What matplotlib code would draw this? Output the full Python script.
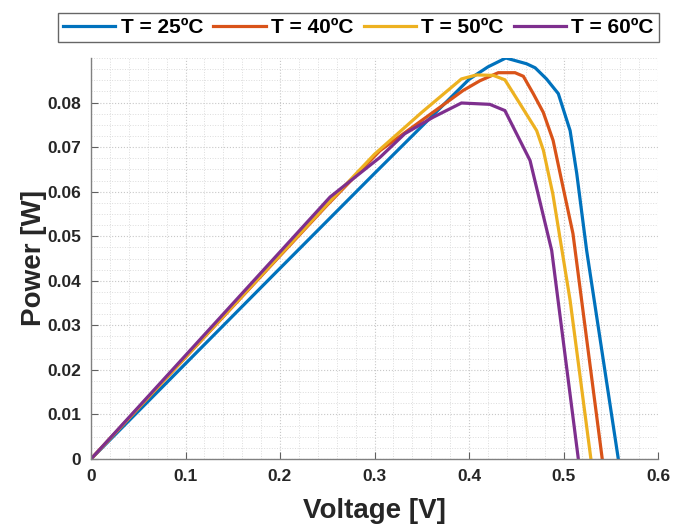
import numpy as np
import matplotlib.pyplot as plt
from matplotlib.ticker import MultipleLocator

plt.rcParams['font.family'] = ['Liberation Sans', 'DejaVu Sans']

# P-V curves
v25 = [0, 0.1, 0.2, 0.3, 0.4, 0.42, 0.439, 0.461, 0.470, 0.482, 0.4945, 0.507, 0.514, 0.5245, 0.558]
p25 = [0, 0.0214, 0.0428, 0.0641, 0.0852, 0.0880, 0.0900, 0.0887, 0.0878, 0.0853, 0.0820, 0.0737, 0.0641, 0.0468, 0]

v40 = [0, 0.25, 0.3058, 0.3937, 0.4116, 0.431, 0.4487, 0.4575, 0.468, 0.4786, 0.489, 0.498, 0.510, 0.541]
p40 = [0, 0.0570, 0.0692, 0.0827, 0.0849, 0.0867, 0.0867, 0.0859, 0.0820, 0.0778, 0.0715, 0.0625, 0.0506, 0]

v50 = [0, 0.25, 0.30, 0.35, 0.392, 0.408, 0.4257, 0.438, 0.454, 0.4716, 0.4787, 0.4887, 0.507, 0.529]
p50 = [0, 0.0572, 0.0684, 0.0778, 0.0853, 0.0862, 0.0861, 0.0851, 0.0797, 0.0737, 0.0693, 0.0595, 0.0356, 0]

v60 = [0, 0.253, 0.3058, 0.332, 0.362, 0.392, 0.422, 0.438, 0.4646, 0.4875, 0.5157]
p60 = [0, 0.0588, 0.0677, 0.0730, 0.0767, 0.0799, 0.0796, 0.0782, 0.0670, 0.0468, 0]

labels = ['T = 25ºC', 'T = 40ºC', 'T = 50ºC', 'T = 60ºC']
colors = ['#0072BD', '#D95319', '#EDB120', '#7E2F8E']

fig = plt.figure(figsize=(6.75, 5.24), dpi=100)
ax = fig.add_axes([91/675, 65/524, 567/675, 401/524])

series = [(v25, p25), (v40, p40), (v50, p50), (v60, p60)]
for (v, p), lab, col in zip(series, labels, colors):
    ax.plot(v, p, color=col, lw=2.3, label=lab, solid_joinstyle='miter')

ax.set_xlim(0, 0.6)
ax.set_ylim(0, 0.09)
ax.set_xticks([0, 0.1, 0.2, 0.3, 0.4, 0.5, 0.6])
ax.set_xticklabels(['0', '0.1', '0.2', '0.3', '0.4', '0.5', '0.6'])
ax.set_yticks(np.arange(0, 0.081, 0.01))
ax.set_yticklabels(['0'] + ['%.2f' % t for t in np.arange(0.01, 0.081, 0.01)])
ax.xaxis.set_minor_locator(MultipleLocator(0.02))
ax.yaxis.set_minor_locator(MultipleLocator(0.0025))
ax.grid(which='major', color='#c8c8c8', linestyle=':', linewidth=0.8)
ax.grid(which='minor', color='#dcdcdc', linestyle=':', linewidth=0.7)
ax.set_axisbelow(True)

for s in ['top', 'right']:
    ax.spines[s].set_visible(False)
for s in ['left', 'bottom']:
    ax.spines[s].set_color('#808080')
    ax.spines[s].set_linewidth(1.0)

ax.tick_params(which='major', direction='in', length=5, color='#606060', labelsize=12.5, pad=7)
ax.tick_params(which='minor', length=0)
for t in ax.get_xticklabels() + ax.get_yticklabels():
    t.set_fontweight('bold')
    t.set_color('#262626')

ax.set_xlabel('Voltage [V]', fontsize=20, fontweight='bold', color='#262626', labelpad=10)
ax.set_ylabel('Power [W]', fontsize=20, fontweight='bold', color='#262626', labelpad=0)

leg = fig.legend(loc='center', bbox_to_anchor=(0.531, 0.947), ncol=4,
                 prop={'weight': 'bold', 'size': 15}, handlelength=2.5, handletextpad=0.25,
                 columnspacing=0.5, frameon=True, fancybox=False, borderpad=0.25,
                 borderaxespad=0)
leg.get_frame().set_edgecolor('#404040')
leg.get_frame().set_linewidth(1.0)

fig.savefig('out.png', dpi=100)
